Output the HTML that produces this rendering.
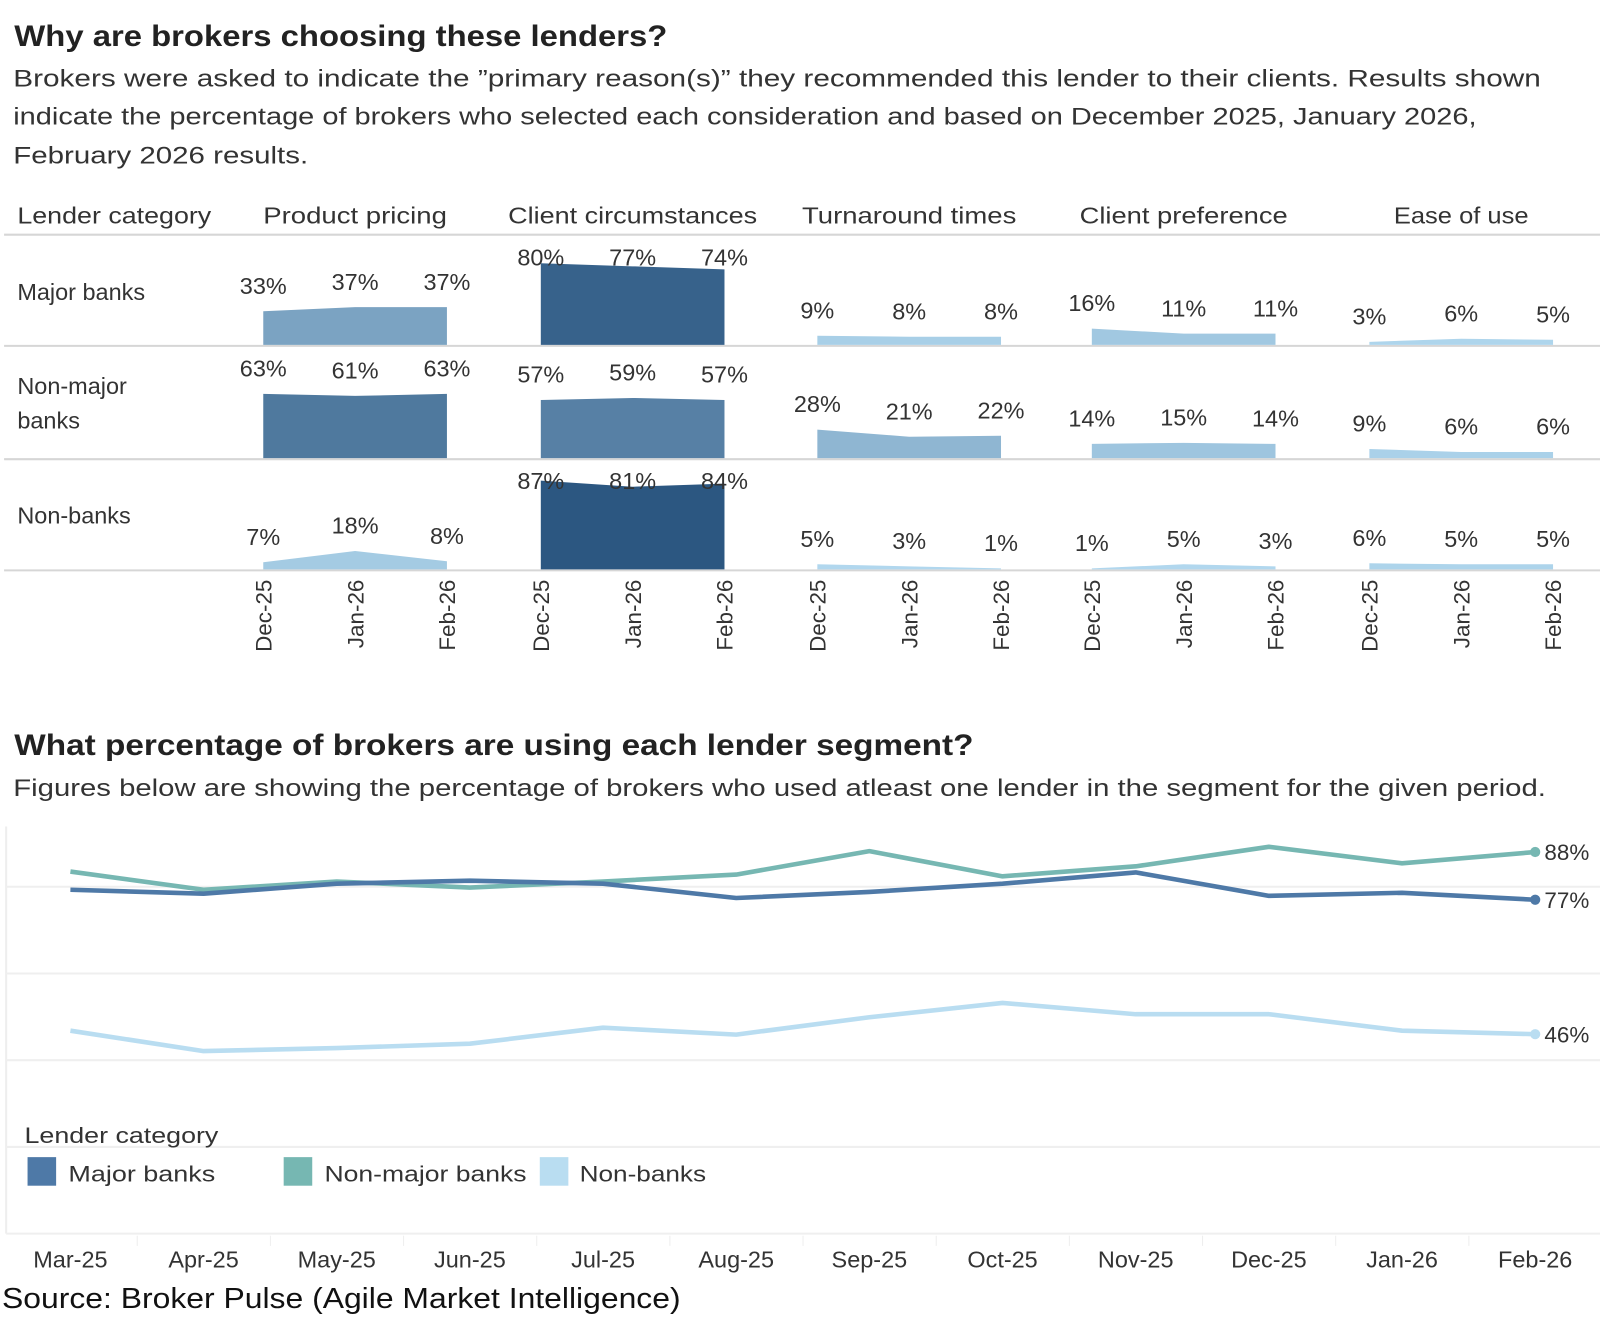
<!DOCTYPE html>
<html><head><meta charset="utf-8">
<style>
body{margin:0;background:#fff;}
svg{display:block;font-family:"Liberation Sans",sans-serif;}
</style></head>
<body>
<svg id="s" width="1600" height="1321" viewBox="0 0 1600 1321" xmlns="http://www.w3.org/2000/svg">
<g transform="scale(1.0204)">
<text x="14" y="45" font-size="29" font-weight="bold" fill="#222" textLength="640" lengthAdjust="spacingAndGlyphs">Why are brokers choosing these lenders?</text>
<text x="13" y="85" font-size="24" fill="#333" textLength="1497" lengthAdjust="spacingAndGlyphs">Brokers were asked to indicate the ”primary reason(s)” they recommended this lender to their clients. Results shown</text>
<text x="13" y="122" font-size="24" fill="#333" textLength="1434" lengthAdjust="spacingAndGlyphs">indicate the percentage of brokers who selected each consideration and based on December 2025, January 2026,</text>
<text x="13" y="160" font-size="24" fill="#333" textLength="289" lengthAdjust="spacingAndGlyphs">February 2026 results.</text>
<g id="topPanel"></g>
<text x="14" y="740" font-size="29" font-weight="bold" fill="#222" textLength="940" lengthAdjust="spacingAndGlyphs">What percentage of brokers are using each lender segment?</text>
<text x="13" y="780" font-size="24" fill="#333" textLength="1502" lengthAdjust="spacingAndGlyphs">Figures below are showing the percentage of brokers who used atleast one lender in the segment for the given period.</text>
<g id="linePanel"></g>
<text x="24" y="1120" font-size="22" fill="#333" textLength="190" lengthAdjust="spacingAndGlyphs">Lender category</text>
<rect x="27" y="1134" width="28" height="28" fill="#4e79a7"/>
<text x="67" y="1158" font-size="22" fill="#333" textLength="144" lengthAdjust="spacingAndGlyphs">Major banks</text>
<rect x="278" y="1134" width="28" height="28" fill="#76b7b2"/>
<text x="318" y="1158" font-size="22" fill="#333" textLength="198" lengthAdjust="spacingAndGlyphs">Non-major banks</text>
<rect x="529" y="1134" width="28" height="28" fill="#b9ddf1"/>
<text x="568" y="1158" font-size="22" fill="#333" textLength="124" lengthAdjust="spacingAndGlyphs">Non-banks</text>
<text x="2" y="1282" font-size="28" fill="#111" textLength="665" lengthAdjust="spacingAndGlyphs">Source: Broker Pulse (Agile Market Intelligence)</text>
</g>
</svg>
<script>
// ---- top area panel data ----
const reasons = ["Product pricing","Client circumstances","Turnaround times","Client preference","Ease of use"];
const lenderRows = ["Major banks","Non-major banks","Non-banks"];
const months3 = ["Dec-25","Jan-26","Feb-26"];
const majorVals = [[33,37,37],[80,77,74],[9,8,8],[16,11,11],[3,6,5]];
const nonMajorVals = [[63,61,63],[57,59,57],[28,21,22],[14,15,14],[9,6,6]];
const nonBankVals = [[7,18,8],[87,81,84],[5,3,1],[1,5,3],[6,5,5]];
// ---- line chart data ----
const months12 = ["Mar-25","Apr-25","May-25","Jun-25","Jul-25","Aug-25","Sep-25","Oct-25","Nov-25","Dec-25","Jan-26","Feb-26"];
const lineMajor = [79.3,78.4,80.7,81.4,80.7,77.4,78.8,80.7,83.3,77.9,78.6,77];
const lineNonMajor = [83.5,79.3,81.2,79.8,81.2,82.8,88.2,82.4,84.7,89.2,85.4,88];
const lineNonBanks = [46.8,42.1,42.8,43.8,47.5,45.9,49.9,53.2,50.6,50.6,46.8,46];

const NS="http://www.w3.org/2000/svg";
function mk(parent,tag,attrs,text){const el=document.createElementNS(NS,tag);for(const k in attrs)el.setAttribute(k,attrs[k]);if(text!==undefined)el.textContent=text;parent.appendChild(el);return el;}

const tp=document.getElementById('topPanel');
const colX0=[258,530,801,1070,1342], colStep=90;
const rowBase=[338,449,558], rowTop=[232,341,451];
const xT=(c,i)=>colX0[c]+i*colStep;
const yT=(r,v)=>rowBase[r]-v*1.0;
function lerp(a,b,t){return Math.round(a+(b-a)*t);}
function colorFor(v){const t=Math.min(1,Math.max(0,v/85));return `rgb(${lerp(182,42,t)},${lerp(220,85,t)},${lerp(242,128,t)})`;}
let n1;
n1=mk(tp,'text',{x:17,y:219,'font-size':23,fill:'#333',textLength:190,lengthAdjust:'spacingAndGlyphs'},'Lender category');


const hdrW=[180,244,210,204,132];
reasons.forEach((r,c)=>{
  n1=mk(tp,'text',{x:colX0[c]+colStep,y:219,'font-size':23,fill:'#333','text-anchor':'middle',textLength:hdrW[c],lengthAdjust:'spacingAndGlyphs'},r);
  
  
});
[230,339,450,559].forEach(y=>{
  n1=mk(tp,'line',{x1:4,x2:1600,y1:y,y2:y,stroke:'#d6d6d6','stroke-width':2});
  
  
});
const rowLabels=[["Major banks"],["Non-major","banks"],["Non-banks"]];
const rowLabelY=[[294],[386,420],[513]];
rowLabels.forEach((ls,r)=>ls.forEach((l,k)=>{
  n1=mk(tp,'text',{x:17,y:rowLabelY[r][k],'font-size':23,fill:'#333'},l);
  
  
}));
const allVals=[majorVals,nonMajorVals,nonBankVals];
allVals.forEach((rowVals,r)=>{
  rowVals.forEach((vals,c)=>{
    const avg=vals.reduce((a,b)=>a+b,0)/vals.length;
    let d=`M${xT(c,0)},${rowBase[r]}`;
    vals.forEach((v,i)=>{d+=` L${xT(c,i)},${yT(r,v)}`;});
    d+=` L${xT(c,2)},${rowBase[r]} Z`;
    n1=mk(tp,'path',{d:d,fill:colorFor(avg)});
    
    
    vals.forEach((v,i)=>{
      const ly=Math.max(yT(r,v)-17,rowTop[r]+28);
      n1=mk(tp,'text',{x:xT(c,i),y:ly,'font-size':23,fill:'#333','text-anchor':'middle'},v+'%');
      
      
    });
  });
});
reasons.forEach((r,c)=>months3.forEach((m,i)=>{
  const x=xT(c,i);
  n1=mk(tp,'text',{x:0,y:0,'font-size':22,fill:'#333','text-anchor':'end',transform:`translate(${x+8},568) rotate(-90)`},m);
  
  
}));

const lp=document.getElementById('linePanel');
const xL=i=>69+i*130.5;
const yL=v=>869+(80-v)*4.25;
n1=mk(lp,'line',{x1:6,x2:6,y1:810,y2:1209,stroke:'#eee','stroke-width':2});


[80,60,40,20,0].forEach(v=>{
  n1=mk(lp,'line',{x1:6,x2:1600,y1:yL(v),y2:yL(v),stroke:'#efefef','stroke-width':2});
  
  
});
months12.forEach((m,i)=>{
  if(i>0){n1=mk(lp,'line',{x1:xL(i)-65,x2:xL(i)-65,y1:1211,y2:1221,stroke:'#eee','stroke-width':1});
  
  }
  n1=mk(lp,'text',{x:xL(i),y:1242,'font-size':23,fill:'#333','text-anchor':'middle'},m);
  
  
});
const series=[[lineNonBanks,'#b9ddf1','nonbanks'],[lineNonMajor,'#76b7b2','nonmajor'],[lineMajor,'#4e79a7','major']];
series.forEach(([vals,col,nm])=>{
  n1=mk(lp,'polyline',{points:vals.map((v,i)=>xL(i)+','+yL(v)).join(' '),fill:'none',stroke:col,'stroke-width':4.5,'stroke-linejoin':'round'});
  
  
  const n=vals.length-1;
  n1=mk(lp,'circle',{cx:xL(n),cy:yL(vals[n]),r:5,fill:col});
  
  
  n1=mk(lp,'text',{x:xL(n)+9,y:yL(vals[n])+8,'font-size':22,fill:'#333'},Math.round(vals[n])+'%');
  
  
});
</script>
</body></html>
